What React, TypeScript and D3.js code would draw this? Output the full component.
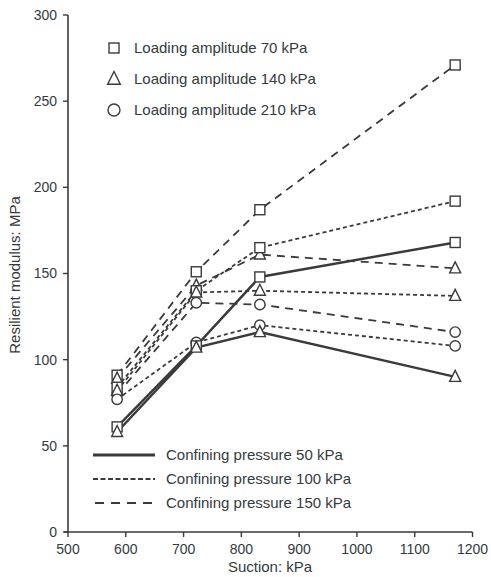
import React from "react";
import * as d3 from "d3";

const suction = [585, 722, 832, 1170];
const sq50 = [61, 108, 148, 168];
const sq100 = [84, 140, 165, 192];
const sq150 = [91, 151, 187, 271];
const tri50 = [58, 107, 116, 90];
const tri100 = [82, 139, 140, 137];
const tri150 = [89, 143, 161, 153];
const circ100 = [77, 110, 120, 108];
const circ150 = [80, 133, 132, 116];

const xTicks = [500, 600, 700, 800, 900, 1000, 1100, 1200];
const yTicks = [0, 50, 100, 150, 200, 250, 300];

const ampLabels = ["Loading amplitude 70 kPa", "Loading amplitude 140 kPa", "Loading amplitude 210 kPa"];
const cpLabels = ["Confining pressure 50 kPa", "Confining pressure 100 kPa", "Confining pressure 150 kPa"];

type Series = { values: number[]; marker: string; cp: number };
const series: Series[] = [
  { values: sq150, marker: "square", cp: 2 },
  { values: tri150, marker: "triangle", cp: 2 },
  { values: circ150, marker: "circle", cp: 2 },
  { values: sq100, marker: "square", cp: 1 },
  { values: tri100, marker: "triangle", cp: 1 },
  { values: circ100, marker: "circle", cp: 1 },
  { values: sq50, marker: "square", cp: 0 },
  { values: tri50, marker: "triangle", cp: 0 },
];

const C = "#3a3a3a";
const T = "#333a40";
const dashes = [null, "4,3", "8,6"];
const widths = [2.4, 1.8, 1.8];

function Marker({ type, x, y, s = 1 }: { type: string; x: number; y: number; s?: number }) {
  if (type === "square")
    return <rect x={x - 5 * s} y={y - 5 * s} width={10 * s} height={10 * s} fill="#fff" stroke={C} strokeWidth={1.4} />;
  if (type === "triangle")
    return (
      <path
        d={`M${x},${y - 6.5 * s}L${x + 5.5 * s},${y + 4.5 * s}L${x - 5.5 * s},${y + 4.5 * s}Z`}
        fill="#fff"
        stroke={C}
        strokeWidth={1.4}
      />
    );
  return <circle cx={x} cy={y} r={5.2 * s} fill="#fff" stroke={C} strokeWidth={1.4} />;
}

export default function App() {
  const W = 491, H = 577;
  const x = d3.scaleLinear().domain([500, 1200]).range([68, 472.5]);
  const y = d3.scaleLinear().domain([0, 300]).range([532, 15]);
  const line = d3
    .line<number>()
    .x((_, i) => x(suction[i]))
    .y((d) => y(d));
  const font = "Liberation Sans, Arial, sans-serif";
  return (
    <svg width={W} height={H} style={{ position: "absolute", left: 0, top: 0, background: "#fff" }} fontFamily={font}>
      <rect width={W} height={H} fill="#fff" />
      {/* axes */}
      <line x1={68} x2={68} y1={15} y2={532} stroke={C} strokeWidth={1.6} />
      <line x1={64} x2={472.5} y1={532} y2={532} stroke={C} strokeWidth={1.6} />
      {yTicks.map((t) => (
        <g key={"y" + t}>
          <line x1={63} x2={68} y1={y(t)} y2={y(t)} stroke={C} strokeWidth={1.4} />
          <text x={57} y={y(t)} dy="0.35em" textAnchor="end" fontSize={14} fill={T}>
            {t}
          </text>
        </g>
      ))}
      {xTicks.map((t) => (
        <g key={"x" + t}>
          <line x1={x(t)} x2={x(t)} y1={532} y2={537} stroke={C} strokeWidth={1.4} />
          <text x={x(t)} y={554} textAnchor="middle" fontSize={14} fill={T}>
            {t}
          </text>
        </g>
      ))}
      <text x={270} y={572} textAnchor="middle" fontSize={15} fill={T}>
        Suction: kPa
      </text>
      <text
        transform={`translate(20,${275}) rotate(-90)`}
        textAnchor="middle"
        fontSize={15}
        fill={T}
      >
        Resilient modulus: MPa
      </text>
      {/* lines */}
      {series.map((s, i) => (
        <path
          key={"l" + i}
          d={line(s.values) || ""}
          fill="none"
          stroke={C}
          strokeWidth={widths[s.cp]}
          strokeDasharray={dashes[s.cp] || undefined}
        />
      ))}
      {series.map((s, i) =>
        s.values.map((v, j) => <Marker key={`m${i}-${j}`} type={s.marker} x={x(suction[j])} y={y(v)} />)
      )}
      {/* legend markers */}
      {ampLabels.map((l, i) => (
        <g key={"a" + i}>
          <Marker type={["square", "triangle", "circle"][i]} x={114} y={48 + i * 31} s={i === 0 ? 1 : 1.15} />
          <text x={134} y={48 + i * 31} dy="0.35em" fontSize={15} fill={T}>
            {l}
          </text>
        </g>
      ))}
      {cpLabels.map((l, i) => (
        <g key={"c" + i}>
          <line
            x1={i === 2 ? 95 : 93}
            x2={155}
            y1={455 + i * 24}
            y2={455 + i * 24}
            stroke={C}
            strokeWidth={i === 0 ? 3 : 2}
            strokeDasharray={i === 0 ? undefined : i === 1 ? "5,2.5" : "9,7"}
          />
          <text x={166} y={455 + i * 24} dy="0.35em" fontSize={15} fill={T}>
            {l}
          </text>
        </g>
      ))}
    </svg>
  );
}
